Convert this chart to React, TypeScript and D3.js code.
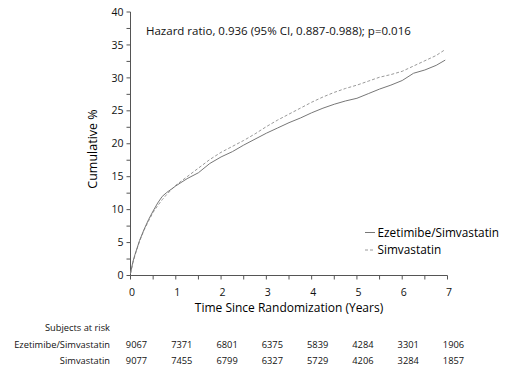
import React from 'react';
import * as d3 from 'd3';

// Years since randomization for the curve readings
const curveTimes = [0, 0.05, 0.1, 0.2, 0.3, 0.4, 0.5, 0.6, 0.7, 0.8, 0.9, 1.0, 1.25, 1.5, 1.75, 2.0, 2.25, 2.5, 2.75, 3.0, 3.25, 3.5, 3.75, 4.0, 4.25, 4.5, 4.75, 5.0, 5.25, 5.5, 5.75, 6.0, 6.25, 6.5, 6.75, 6.95];
// Cumulative % per arm
const ezetimibeValues = [0.3, 2.0, 3.2, 5.3, 7.0, 8.5, 9.8, 11.0, 12.0, 12.6, 13.1, 13.6, 14.7, 15.6, 17.0, 18.0, 18.8, 19.8, 20.7, 21.6, 22.4, 23.2, 23.9, 24.7, 25.4, 26.0, 26.5, 26.9, 27.6, 28.3, 28.9, 29.6, 30.7, 31.2, 31.9, 32.7];
const simvastatinValues = [0.3, 1.8, 3.1, 5.2, 6.9, 8.3, 9.6, 10.6, 11.5, 12.3, 13.0, 13.7, 15.0, 16.3, 17.6, 18.7, 19.6, 20.5, 21.5, 22.6, 23.6, 24.5, 25.4, 26.3, 27.1, 27.8, 28.4, 28.9, 29.5, 30.1, 30.5, 31.0, 31.8, 32.6, 33.4, 34.3];

const xTicks = [0, 1, 2, 3, 4, 5, 6, 7];
const yTicks = [0, 5, 10, 15, 20, 25, 30, 35, 40];
const riskEzetimibe = [9067, 7371, 6801, 6375, 5839, 4284, 3301, 1906];
const riskSimvastatin = [9077, 7455, 6799, 6327, 5729, 4206, 3284, 1857];

const width = 511;
const height = 385;
const font = "'Open Sans', 'Noto Sans', sans-serif";

export default function App() {
  const x = d3.scaleLinear().domain([0, 7]).range([130.5, 447.5]);
  const y = d3.scaleLinear().domain([0, 40]).range([275.5, 12]);

  const line = d3.line<[number, number]>()
    .x(d => x(d[0]))
    .y(d => y(d[1]));

  const ezePts = curveTimes.map((t, i) => [t, ezetimibeValues[i]] as [number, number]);
  const simPts = curveTimes.map((t, i) => [t, simvastatinValues[i]] as [number, number]);

  const xMinor = d3.range(0, 7.01, 0.5);
  const yMinor = d3.range(0, 40.01, 2.5);
  const axisColor = '#555';

  return (
    <svg width={width} height={height} style={{ position: 'absolute', left: 0, top: 0, background: '#fff' }} fontFamily={font}>
      {/* axes */}
      <line x1={x(0)} x2={x(0)} y1={y(0)} y2={y(40)} stroke={axisColor} />
      <line x1={x(0)} x2={x(7)} y1={y(0)} y2={y(0)} stroke={axisColor} />
      {yMinor.map(v => (
        <line key={'ym' + v} x1={x(0) - 4} x2={x(0)} y1={y(v)} y2={y(v)} stroke={axisColor} />
      ))}
      {xMinor.map(v => (
        <line key={'xm' + v} x1={x(v)} x2={x(v)} y1={y(0)} y2={y(0) + 4} stroke={axisColor} />
      ))}
      {yTicks.map(v => (
        <text key={'yt' + v} x={x(0) - 7} y={y(v)} dy="0.35em" textAnchor="end" fontSize={10.5} fill="#111">{v}</text>
      ))}
      {xTicks.map(v => (
        <text key={'xt' + v} x={x(v) + 1.5} y={y(0) + 16.5} dy="0.35em" textAnchor="middle" fontSize={10.5} fill="#111">{v}</text>
      ))}
      <text transform={`translate(93,149) rotate(-90)`} textAnchor="middle" dy="0.35em" fontSize={12.5} fill="#000">Cumulative %</text>
      <text x={289} y={308} textAnchor="middle" dy="0.35em" fontSize={12} fill="#000">Time Since Randomization (Years)</text>

      {/* curves */}
      <path d={line(simPts) || ''} fill="none" stroke="#9a9a9a" strokeWidth={1} strokeDasharray="3,2" />
      <path d={line(ezePts) || ''} fill="none" stroke="#777" strokeWidth={1} />

      {/* annotation */}
      <text x={146} y={31} dy="0.35em" fontSize={11.5} fill="#111">Hazard ratio, 0.936 (95% CI, 0.887-0.988); p=0.016</text>

      {/* legend */}
      <line x1={365} x2={375} y1={232.5} y2={232.5} stroke="#777" />
      <text x={377.5} y={232.5} dy="0.35em" fontSize={11.8} fill="#000">Ezetimibe/Simvastatin</text>
      <line x1={365} x2={375} y1={250} y2={250} stroke="#9a9a9a" strokeDasharray="3,2" />
      <text x={377.5} y={250} dy="0.35em" fontSize={11.8} fill="#000">Simvastatin</text>

      {/* subjects at risk */}
      <text x={110} y={328} dy="0.35em" textAnchor="end" fontSize={9.3} fill="#111">Subjects at risk</text>
      <text x={110} y={344.5} dy="0.35em" textAnchor="end" fontSize={9.3} fill="#111">Ezetimibe/Simvastatin</text>
      <text x={110} y={361} dy="0.35em" textAnchor="end" fontSize={9.3} fill="#111">Simvastatin</text>
      {riskEzetimibe.map((n, i) => (
        <text key={'re' + i} x={x(xTicks[i]) + 6} y={344.5} dy="0.35em" textAnchor="middle" fontSize={9.3} fill="#111">{n}</text>
      ))}
      {riskSimvastatin.map((n, i) => (
        <text key={'rs' + i} x={x(xTicks[i]) + 6} y={361} dy="0.35em" textAnchor="middle" fontSize={9.3} fill="#111">{n}</text>
      ))}
    </svg>
  );
}
